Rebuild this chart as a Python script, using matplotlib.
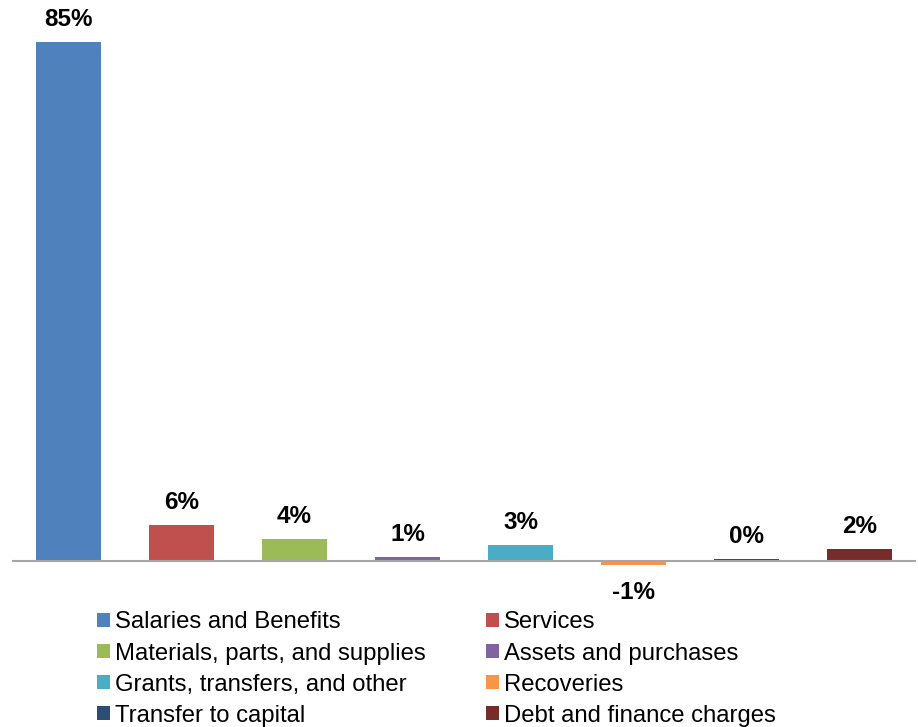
import numpy as np
import matplotlib.pyplot as plt
from matplotlib.patches import Patch

plt.rcParams['font.family'] = ['Liberation Sans', 'DejaVu Sans']

categories = ["Salaries and Benefits", "Services", "Materials, parts, and supplies",
              "Assets and purchases", "Grants, transfers, and other", "Recoveries",
              "Transfer to capital", "Debt and finance charges"]
shares = [85.4, 5.9, 3.6, 0.6, 2.6, -0.7, 0.3, 2.0]
colors = ["#4F81BD", "#C0504D", "#9BBB59", "#8064A2",
          "#4BACC6", "#F79646", "#2C4D75", "#772C2A"]

fig = plt.figure(figsize=(9.18, 7.27), dpi=100)
W, H = 918, 727
# axes placed in pixel terms: x from 12 to 916, y from 5 to 595 (top-down)
ax = fig.add_axes([12 / W, 1 - 595 / H, (916 - 12) / W, (595 - 5) / H])

x = np.arange(len(shares))
bars = ax.bar(x, shares, width=0.575, color=colors, zorder=2)
ax.axhline(0, color="#A6A6A6", lw=1.5, zorder=3)

ax.set_xlim(-0.5, len(shares) - 0.5)
ax.set_ylim(-34 / 6.08, 556 / 6.08)
ax.axis("off")

for xi, v in zip(x, shares):
    if v >= 0:
        ax.annotate(f"{v:.0f}%", (xi, v), xytext=(0, 11.5), textcoords="offset points",
                    ha="center", va="baseline", fontsize=17.5, fontweight="bold")
    else:
        ax.annotate(f"{v:.0f}%", (xi, v), xytext=(0, -11.5), textcoords="offset points",
                    ha="center", va="top", fontsize=17.5, fontweight="bold")

# legend: row-wise order in 2 columns
order = [0, 2, 4, 6, 1, 3, 5, 7]
handles = [Patch(facecolor=colors[i], edgecolor="none") for i in order]
labels = [categories[i] for i in order]
fig.legend(handles, labels, ncol=2, loc="upper left",
           bbox_to_anchor=(97 / W, 1 - 611.5 / H), frameon=False,
           fontsize=17.2, handlelength=0.54, handleheight=0.54, handletextpad=0.2,
           labelspacing=0.38, columnspacing=2.55, borderpad=0, borderaxespad=0)

fig.savefig("out.png", dpi=100)
